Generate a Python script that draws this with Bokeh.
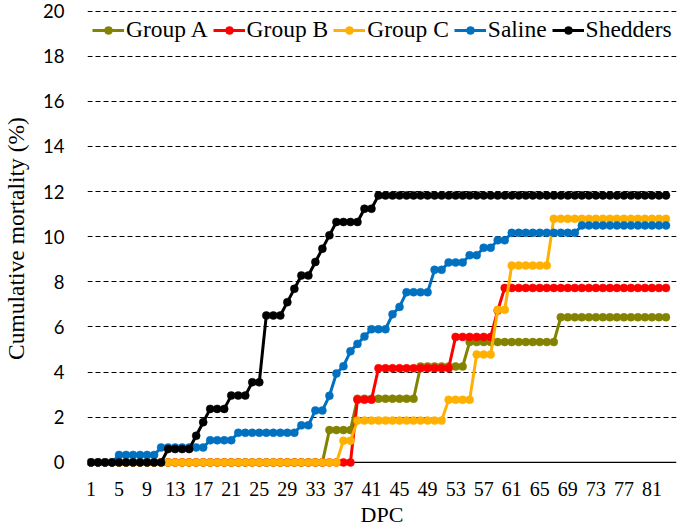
from bokeh.plotting import figure
from bokeh.models import FixedTicker, Span, Legend, LegendItem
from bokeh.embed import file_html
from bokeh.resources import INLINE

# ---------------- data ----------------
days = [1, 2, 3, 4, 5, 6, 7, 8, 9, 10, 11, 12, 13, 14, 15, 16, 17, 18, 19, 20,
        21, 22, 23, 24, 25, 26, 27, 28, 29, 30, 31, 32, 33, 34, 35, 36, 37, 38, 39, 40,
        41, 42, 43, 44, 45, 46, 47, 48, 49, 50, 51, 52, 53, 54, 55, 56, 57, 58, 59, 60,
        61, 62, 63, 64, 65, 66, 67, 68, 69, 70, 71, 72, 73, 74, 75, 76, 77, 78, 79, 80,
        81, 82, 83]

group_a = [0, 0, 0, 0, 0, 0, 0, 0, 0, 0,
           0, 0, 0, 0, 0, 0, 0, 0, 0, 0,
           0, 0, 0, 0, 0, 0, 0, 0, 0, 0,
           0, 0, 0, 0,
           1.43, 1.43, 1.43, 1.43,
           2.82, 2.82, 2.82, 2.82, 2.82, 2.82, 2.82, 2.82, 2.82,
           4.25, 4.25, 4.25, 4.25, 4.25, 4.25, 4.25,
           5.33, 5.33, 5.33, 5.33, 5.33, 5.33, 5.33, 5.33, 5.33, 5.33, 5.33, 5.33, 5.33,
           6.43, 6.43, 6.43, 6.43, 6.43, 6.43, 6.43, 6.43, 6.43, 6.43, 6.43, 6.43, 6.43,
           6.43, 6.43, 6.43]

group_b = [0, 0, 0, 0, 0, 0, 0, 0, 0, 0,
           0, 0, 0, 0, 0, 0, 0, 0, 0, 0,
           0, 0, 0, 0, 0, 0, 0, 0, 0, 0,
           0, 0, 0, 0, 0, 0, 0, 0,
           2.78, 2.78, 2.78,
           4.17, 4.17, 4.17, 4.17, 4.17, 4.17, 4.17, 4.17, 4.17, 4.17, 4.17,
           5.56, 5.56, 5.56, 5.56, 5.56, 5.56,
           6.73,
           7.73, 7.73, 7.73, 7.73, 7.73, 7.73, 7.73, 7.73, 7.73, 7.73, 7.73, 7.73,
           7.73, 7.73, 7.73, 7.73, 7.73, 7.73, 7.73, 7.73, 7.73, 7.73, 7.73, 7.73]

group_c = [0, 0, 0, 0, 0, 0, 0, 0, 0, 0,
           0, 0, 0, 0, 0, 0, 0, 0, 0, 0,
           0, 0, 0, 0, 0, 0, 0, 0, 0, 0,
           0, 0, 0, 0, 0, 0,
           0.96, 0.96,
           1.85, 1.85, 1.85, 1.85, 1.85, 1.85, 1.85, 1.85, 1.85, 1.85, 1.85, 1.85, 1.85,
           2.77, 2.77, 2.77, 2.77,
           4.78, 4.78, 4.78,
           6.76, 6.76,
           8.72, 8.72, 8.72, 8.72, 8.72, 8.72,
           10.79, 10.79, 10.79, 10.79, 10.79, 10.79, 10.79, 10.79, 10.79, 10.79,
           10.79, 10.79, 10.79, 10.79, 10.79, 10.79, 10.79]

saline = [0, 0, 0, 0,
          0.33, 0.33, 0.33, 0.33, 0.33, 0.33,
          0.66, 0.66, 0.66, 0.66, 0.66, 0.66, 0.66,
          0.98, 0.98, 0.98, 0.98,
          1.31, 1.31, 1.31, 1.31, 1.31, 1.31, 1.31, 1.31, 1.31,
          1.64, 1.64,
          2.30, 2.30,
          2.95, 3.94, 4.26, 4.92, 5.25, 5.58,
          5.90, 5.90, 5.90,
          6.56, 6.89,
          7.54, 7.54, 7.54, 7.54,
          8.53, 8.53,
          8.86, 8.86, 8.86,
          9.18, 9.18,
          9.51, 9.51,
          9.84, 9.84,
          10.17, 10.17, 10.17, 10.17, 10.17, 10.17, 10.17, 10.17, 10.17, 10.17,
          10.50, 10.50, 10.50, 10.50, 10.50, 10.50, 10.50, 10.50, 10.50, 10.50,
          10.50, 10.50, 10.50]

shedders = [0, 0, 0, 0, 0, 0, 0, 0, 0, 0, 0,
            0.59, 0.59, 0.59, 0.59,
            1.18, 1.78,
            2.37, 2.37, 2.37,
            2.96, 2.96, 2.96,
            3.55, 3.55,
            6.51, 6.51, 6.51,
            7.10, 7.69,
            8.28, 8.28,
            8.88, 9.47, 10.06,
            10.65, 10.65, 10.65, 10.65,
            11.24, 11.24,
            11.83, 11.83, 11.83, 11.83, 11.83, 11.83, 11.83, 11.83, 11.83, 11.83,
            11.83, 11.83, 11.83, 11.83, 11.83, 11.83, 11.83, 11.83, 11.83, 11.83,
            11.83, 11.83, 11.83, 11.83, 11.83, 11.83, 11.83, 11.83, 11.83, 11.83,
            11.83, 11.83, 11.83, 11.83, 11.83, 11.83, 11.83, 11.83, 11.83, 11.83,
            11.83, 11.83]

series_names = ["Group A", "Group B", "Group C", "Saline", "Shedders"]
series_values = [group_a, group_b, group_c, saline, shedders]
series_colors = ["#838300", "#FF0000", "#FFB000", "#0070C0", "#000000"]

x_ticks = [1, 5, 9, 13, 17, 21, 25, 29, 33, 37, 41, 45, 49, 53, 57, 61, 65, 69, 73, 77, 81]
y_ticks = [0, 2, 4, 6, 8, 10, 12, 14, 16, 18, 20]
grid_ticks = [2, 4, 6, 8, 10, 12, 14, 16, 18, 20]

# ---------------- figure ----------------
p = figure(width=678, height=530, output_backend="svg", toolbar_location=None,
           x_range=(0.5, 84.5), y_range=(-0.36, 20.2),
           min_border_left=86, min_border_right=2, min_border_top=6, min_border_bottom=60)
p.outline_line_color = None
p.background_fill_color = "white"

serif = "'Liberation Serif', 'Times New Roman', serif"

p.xaxis.ticker = FixedTicker(ticks=x_ticks)
p.xaxis.axis_line_color = None
p.xaxis.major_tick_line_color = None
p.xaxis.minor_tick_line_color = None
p.xaxis.major_tick_out = 0
p.xaxis.major_tick_in = 0
p.xaxis.minor_tick_out = 0
p.xaxis.minor_tick_in = 0
p.xaxis.major_label_text_font = serif
p.xaxis.major_label_text_font_size = "20px"
p.xaxis.major_label_text_color = "black"
p.xaxis.major_label_standoff = 11
p.xaxis.axis_label = "DPC"
p.xaxis.axis_label_text_font = serif
p.xaxis.axis_label_text_font_size = "22px"
p.xaxis.axis_label_text_font_style = "normal"
p.xaxis.axis_label_text_color = "black"
p.xaxis.axis_label_standoff = 3

p.yaxis.ticker = FixedTicker(ticks=y_ticks)
p.yaxis.axis_line_color = None
p.yaxis.major_tick_line_color = None
p.yaxis.minor_tick_line_color = None
p.yaxis.major_tick_out = 0
p.yaxis.major_tick_in = 0
p.yaxis.minor_tick_out = 0
p.yaxis.minor_tick_in = 0
p.yaxis.major_label_text_font = "Lato"
p.yaxis.major_label_text_font_size = "18.5px"
p.yaxis.major_label_text_color = "black"
p.yaxis.major_label_standoff = 23
p.yaxis.axis_label = "Cumulative mortality (%)"
p.yaxis.axis_label_text_font = serif
p.yaxis.axis_label_text_font_size = "23.5px"
p.yaxis.axis_label_text_font_style = "normal"
p.yaxis.axis_label_text_color = "black"
p.yaxis.axis_label_standoff = 11

p.xgrid.grid_line_color = None
p.ygrid.ticker = FixedTicker(ticks=grid_ticks)
p.ygrid.grid_line_color = "black"
p.ygrid.grid_line_width = 1
p.ygrid.grid_line_dash = "5 3"

p.add_layout(Span(location=0, dimension="width", line_color="black", line_width=1.3,
                  level="underlay"))

items = []
for name, vals, col in zip(series_names, series_values, series_colors):
    ln = p.line(days, vals, line_color=col, line_width=3)
    pt = p.scatter(days, vals, marker="circle", size=8, fill_color=col, line_color=col,
                   line_width=0.5)
    items.append(LegendItem(label=name, renderers=[ln, pt]))

legend = Legend(items=items, orientation="horizontal", location=(5, 427),
                glyph_width=32, glyph_height=20, label_standoff=2, spacing=5,
                padding=0, margin=0, border_line_color=None, background_fill_alpha=0,
                label_text_font=serif, label_text_font_size="23.5px",
                label_text_color="black")
p.add_layout(legend)

open("out.html", "w").write(file_html(p, INLINE))
